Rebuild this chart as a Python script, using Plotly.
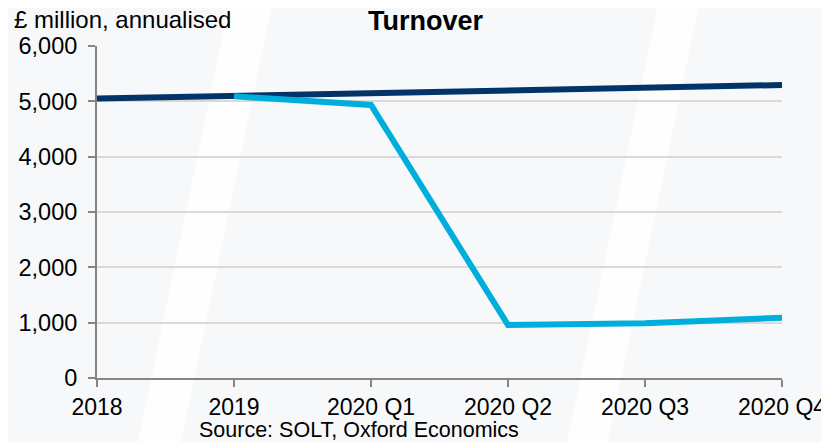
import plotly.graph_objects as go

categories = ["2018", "2019", "2020 Q1", "2020 Q2", "2020 Q3", "2020 Q4"]
pre_covid_trend = [5050, 5100, 5150, 5195, 5245, 5295]
covid_x = ["2019", "2020 Q1", "2020 Q2", "2020 Q3", "2020 Q4"]
covid_turnover = [5090, 4935, 958, 988, 1088]
y_ticks = [0, 1000, 2000, 3000, 4000, 5000, 6000]

FONT = "Liberation Sans, Arial, sans-serif"
OFF = 8  # page body margin
W, H = 829 - OFF, 442 - OFF
L, R, T, B = 97 - OFF, 47, 46 - OFF, 64
pw, ph = W - L - R, H - T - B

# helpers: convert screen-pixel positions to paper coordinates
def px(x):
    return (x - OFF - L) / pw

def py(y):
    return (H - B - (y - OFF)) / ph

idx = {c: i for i, c in enumerate(categories)}

fig = go.Figure()
fig.add_trace(go.Scatter(
    x=[idx[c] for c in categories], y=pre_covid_trend, mode="lines",
    line=dict(color="#043368", width=6), hoverinfo="skip", showlegend=False))
fig.add_trace(go.Scatter(
    x=[idx[c] for c in covid_x], y=covid_turnover, mode="lines",
    line=dict(color="#00AEDC", width=6), hoverinfo="skip", showlegend=False))

# subtle white watermark bands in the background
def band(x0t, x1t, x0b, x1b):
    return ("M {a},{ya} L {b},{ya} L {c},{yb} L {d},{yb} Z".format(
        a=px(x0t), b=px(x1t), c=px(x1b), d=px(x0b), ya=py(0), yb=py(442)))

shapes = [
    dict(type="path", path=band(230, 273, 138, 181), xref="paper", yref="paper",
         fillcolor="white", opacity=0.8, line=dict(width=0), layer="below"),
    dict(type="path", path=band(659, 700, 567, 608), xref="paper", yref="paper",
         fillcolor="white", opacity=0.8, line=dict(width=0), layer="below"),
]

fig.update_layout(
    width=W, height=H,
    margin=dict(l=L, r=R, t=T, b=B, autoexpand=False),
    paper_bgcolor="#f7f8fa", plot_bgcolor="rgba(0,0,0,0)",
    font=dict(family=FONT, size=23, color="#000000"),
    shapes=shapes,
    xaxis=dict(
        range=[0, 5], tickmode="array", tickvals=list(range(len(categories))),
        ticktext=categories, showgrid=False, zeroline=False, automargin=False,
        showline=True, linecolor="#858585", linewidth=2,
        ticks="outside", ticklen=7, tickwidth=2, tickcolor="#858585",
        tickfont=dict(size=23, color="#000000"), fixedrange=True),
    yaxis=dict(
        range=[0, 6000], tickmode="array", tickvals=y_ticks, automargin=False,
        tickformat=",", showgrid=True, gridcolor="#d9d9d9", gridwidth=1.5,
        zeroline=False, showline=True, linecolor="#858585", linewidth=2,
        ticks="outside", ticklen=7, tickwidth=2, tickcolor="#858585",
        tickfont=dict(size=23.5, color="#000000"), ticklabelstandoff=6,
        fixedrange=True),
    annotations=[
        dict(text="£ million, annualised", xref="paper", yref="paper",
             x=px(12), y=py(20), xanchor="left", yanchor="middle",
             showarrow=False, font=dict(size=24, family=FONT, color="#000000")),
        dict(text="<b>Turnover</b>", xref="paper", yref="paper",
             x=px(426), y=py(21), xanchor="center", yanchor="middle",
             showarrow=False, font=dict(size=27, family=FONT, color="#000000")),
        dict(text="Source: SOLT, Oxford Economics", xref="paper", yref="paper",
             x=px(359), y=py(430), xanchor="center", yanchor="middle",
             showarrow=False, font=dict(size=21.5, family=FONT, color="#000000")),
    ],
)

fig.write_html("out.html")
